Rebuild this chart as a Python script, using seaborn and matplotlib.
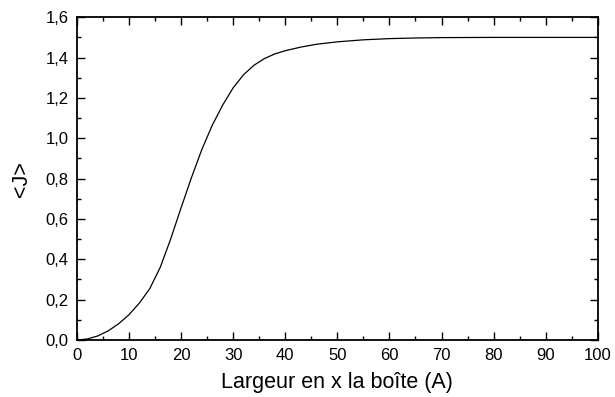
#!/usr/bin/env python
import matplotlib
matplotlib.use('Agg')
import matplotlib.pyplot as plt
from matplotlib.ticker import MultipleLocator, FuncFormatter
import pandas as pd
import seaborn as sns

# values
largeur = [0, 2, 4, 6, 8, 10, 12, 14, 16, 18, 20, 22, 24, 26, 28, 30, 32, 34,
           36, 38, 40, 43, 46, 50, 55, 60, 65, 70, 80, 90, 100]
j_moyen = [0, 0.005, 0.02, 0.045, 0.08, 0.125, 0.183, 0.255, 0.36, 0.5,
           0.655, 0.805, 0.945, 1.065, 1.165, 1.25, 1.315, 1.362, 1.395, 1.418,
           1.434, 1.452, 1.466, 1.478, 1.488, 1.494, 1.497, 1.499, 1.5, 1.5, 1.5]

data = pd.DataFrame({'largeur': largeur, 'J': j_moyen})

sns.set_style('ticks')
plt.rcParams['font.family'] = ['Liberation Sans', 'DejaVu Sans']

fig = plt.figure(figsize=(6.15, 3.97), dpi=100)
ax = fig.add_axes([0.125, 0.1436, 0.847, 0.813])

sns.lineplot(x='largeur', y='J', data=data, ax=ax, color='black', linewidth=0.9)

ax.set_xlim(0, 100)
ax.set_ylim(0, 1.6)
ax.xaxis.set_major_locator(MultipleLocator(10))
ax.xaxis.set_minor_locator(MultipleLocator(5))
ax.yaxis.set_major_locator(MultipleLocator(0.2))
ax.yaxis.set_minor_locator(MultipleLocator(0.1))
ax.yaxis.set_major_formatter(FuncFormatter(lambda v, p: ('%.1f' % v).replace('.', ',')))
ax.xaxis.set_major_formatter(FuncFormatter(lambda v, p: '%d' % v))

ax.tick_params(which='both', direction='in', top=True, right=True,
               labelsize=12, colors='black', width=1)
ax.tick_params(which='major', length=5.5, pad=6)
ax.tick_params(which='minor', length=3)
for s in ax.spines.values():
    s.set_linewidth(1.3)
    s.set_color('black')

ax.set_xlabel('Largeur en x la boîte (A)', fontsize=15.5, labelpad=6, color='black')
ax.set_ylabel('<J>', fontsize=15.5, labelpad=10, color='black')

fig.savefig('out.png', dpi=100)
